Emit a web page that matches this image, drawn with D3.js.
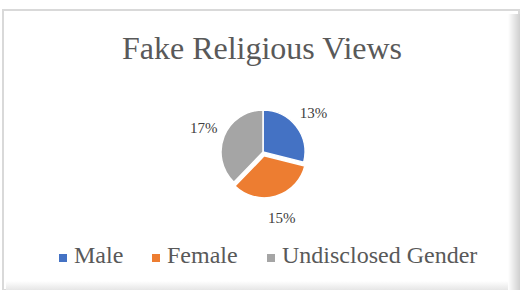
<!DOCTYPE html>
<html>
<head>
<meta charset="utf-8">
<script src="https://cdn.jsdelivr.net/npm/d3@7"></script>
<style>
  body { margin: 0; background: #fff; }
  svg { display: block; font-family: "Liberation Serif", "Times New Roman", serif; }
</style>
</head>
<body>
<div id="chart"></div>
<script>
var svgWidth = 520;
var svgHeight = 290;

// chart data
var categories = ["Male", "Female", "Undisclosed Gender"];
var values = [13, 15, 17];
var labels = ["13%", "15%", "17%"];
var colors = ["#4472C4", "#ED7D31", "#A5A5A5"];

var svg = d3.select("#chart")
  .append("svg")
  .attr("width", svgWidth)
  .attr("height", svgHeight);

// frame with a soft shadow on the right and bottom
var defs = svg.append("defs");
var gRight = defs.append("linearGradient").attr("id", "shadeRight");
gRight.append("stop").attr("offset", "0%").attr("stop-color", "#fff");
gRight.append("stop").attr("offset", "100%").attr("stop-color", "#cfcfcf");
var gBottom = defs.append("linearGradient").attr("id", "shadeBottom")
  .attr("x1", 0).attr("y1", 0).attr("x2", 0).attr("y2", 1);
gBottom.append("stop").attr("offset", "0%").attr("stop-color", "#fff");
gBottom.append("stop").attr("offset", "100%").attr("stop-color", "#e6e6e6");

svg.append("rect")
  .attr("x", 3).attr("y", 10)
  .attr("width", 516).attr("height", 280)
  .attr("fill", "#fff")
  .attr("stroke", "#d9d9d9")
  .attr("stroke-width", 2);

svg.append("rect")
  .attr("x", 508).attr("y", 14)
  .attr("width", 12).attr("height", 276)
  .attr("fill", "url(#shadeRight)");

svg.append("rect")
  .attr("x", 6).attr("y", 281)
  .attr("width", 502).attr("height", 9)
  .attr("fill", "url(#shadeBottom)");

// title
svg.append("text")
  .attr("x", 262)
  .attr("y", 59)
  .attr("text-anchor", "middle")
  .attr("fill", "#595959")
  .style("font-size", "32px")
  .text("Fake Religious Views");

// pie
var cx = 263, cy = 152, radius = 42;
var explode = 4;

var pie = d3.pie().sort(null).value(d => d);
var arcs = pie(values);
var arc = d3.arc().innerRadius(0).outerRadius(radius);
var labelArc = d3.arc().innerRadius(radius + 22).outerRadius(radius + 22);

// Female slice is pulled out a little
function shift(d, i) {
  if (i !== 1) return [0, 0];
  var mid = (d.startAngle + d.endAngle) / 2;
  return [Math.sin(mid) * explode, -Math.cos(mid) * explode];
}

var pieGroup = svg.append("g")
  .attr("transform", `translate(${cx}, ${cy})`);

pieGroup.selectAll("path")
  .data(arcs)
  .enter()
  .append("path")
  .attr("d", arc)
  .attr("fill", (d, i) => colors[i])
  .attr("stroke", "#fff")
  .attr("stroke-width", 1.5)
  .attr("transform", (d, i) => `translate(${shift(d, i)})`);

pieGroup.selectAll("text")
  .data(arcs)
  .enter()
  .append("text")
  .attr("transform", function(d, i) {
    var c = labelArc.centroid(d);
    var s = shift(d, i);
    return `translate(${c[0] + s[0]}, ${c[1] + s[1]})`;
  })
  .attr("dy", "0.35em")
  .attr("text-anchor", "middle")
  .attr("fill", "#404040")
  .style("font-size", "15px")
  .text((d, i) => labels[i]);

// legend
var legendX = [59, 152, 267];
var legend = svg.append("g");

legend.selectAll("rect")
  .data(categories)
  .enter()
  .append("rect")
  .attr("x", (d, i) => legendX[i])
  .attr("y", 254)
  .attr("width", 8)
  .attr("height", 8)
  .attr("fill", (d, i) => colors[i]);

legend.selectAll("text")
  .data(categories)
  .enter()
  .append("text")
  .attr("x", (d, i) => legendX[i] + 15)
  .attr("y", 263)
  .attr("fill", "#595959")
  .style("font-size", "24px")
  .text(d => d);
</script>
</body>
</html>
